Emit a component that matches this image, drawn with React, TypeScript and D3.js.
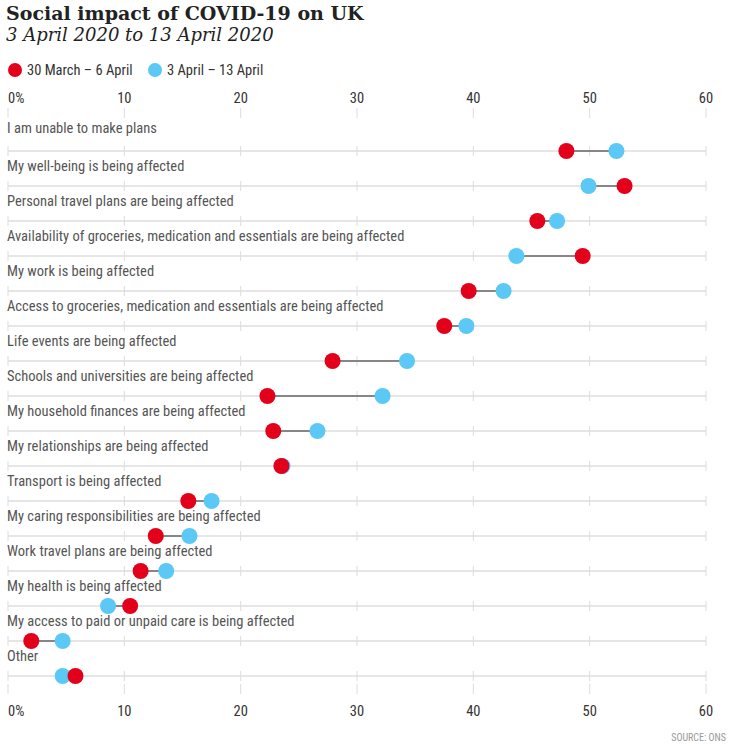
import React from "react";
import * as d3 from "d3";

const categories = ["I am unable to make plans","My well-being is being affected","Personal travel plans are being affected","Availability of groceries, medication and essentials are being affected","My work is being affected","Access to groceries, medication and essentials are being affected","Life events are being affected","Schools and universities are being affected","My household finances are being affected","My relationships are being affected","Transport is being affected","My caring responsibilities are being affected","Work travel plans are being affected","My health is being affected","My access to paid or unpaid care is being affected","Other"];
const series1 = [48.0,53.0,45.5,49.4,39.6,37.5,27.9,22.3,22.8,23.5,15.5,12.7,11.4,10.5,2.0,5.8];
const series2 = [52.3,49.9,47.2,43.7,42.6,39.4,34.3,32.2,26.6,23.6,17.5,15.6,13.6,8.6,4.7,4.7];
const ticks = [0,10,20,30,40,50,60];
const RED = "#e3001b", BLUE = "#5bc8f5";
const FONT = "'Liberation Sans Narrow','Roboto Condensed','Roboto',sans-serif";

export default function App() {
  const W = 736, H = 749;
  const x = d3.scaleLinear().domain([0, 60]).range([8, 706]);
  const y = (i: number) => 151 + i * 35;
  return (
    <svg width={W} height={H} style={{ position: "absolute", left: 0, top: 0, background: "#fff" }}>
      <text x={6} y={20} fontFamily="'DejaVu Serif',serif" fontWeight="bold" fontSize={19} fill="#222">Social impact of COVID-19 on UK</text>
      <text x={6} y={41} fontFamily="'DejaVu Serif',serif" fontStyle="italic" fontSize={18} fill="#222">3 April 2020 to 13 April 2020</text>
      <circle cx={15} cy={70} r={7} fill={RED} />
      <text x={27} y={75} fontFamily={FONT} fontSize={14.5} fill="#333">30 March – 6 April</text>
      <circle cx={155} cy={70} r={7} fill={BLUE} />
      <text x={167} y={75} fontFamily={FONT} fontSize={14.5} fill="#333">3 April – 13 April</text>
      {ticks.map((t) => (
        <g key={t}>
          <text x={t === 0 ? 8 : x(t)} y={103} textAnchor={t === 0 ? "start" : "middle"} fontFamily={FONT} fontSize={14.5} fill="#333">{t === 0 ? "0%" : t}</text>
          <text x={t === 0 ? 8 : x(t)} y={716} textAnchor={t === 0 ? "start" : "middle"} fontFamily={FONT} fontSize={14.5} fill="#333">{t === 0 ? "0%" : t}</text>
          <line x1={x(t)} x2={x(t)} y1={108} y2={118} stroke="#ddd" />
          <line x1={x(t)} x2={x(t)} y1={684} y2={694} stroke="#ddd" />
        </g>
      ))}
      {categories.map((c, i) => (
        <g key={c}>
          <text x={7} y={y(i) - (i === 0 ? 18 : 15)} fontFamily={FONT} fontSize={14.5} fill="#555">{c}</text>
          <line x1={x(0)} x2={x(60)} y1={y(i)} y2={y(i)} stroke="#e6e6e6" strokeWidth={2} />
          {ticks.map((t) => (
            <line key={t} x1={x(t)} x2={x(t)} y1={y(i) - 5} y2={y(i) + 5} stroke="#ddd" />
          ))}
          <line x1={x(series1[i])} x2={x(series2[i])} y1={y(i)} y2={y(i)} stroke="#666" strokeWidth={1.5} />
          <circle cx={x(series2[i])} cy={y(i)} r={8} fill={BLUE} />
          <circle cx={x(series1[i])} cy={y(i)} r={8} fill={RED} />
        </g>
      ))}
      <text x={726} y={741} textAnchor="end" fontFamily={FONT} fontSize={10} fill="#999">SOURCE: ONS</text>
    </svg>
  );
}
